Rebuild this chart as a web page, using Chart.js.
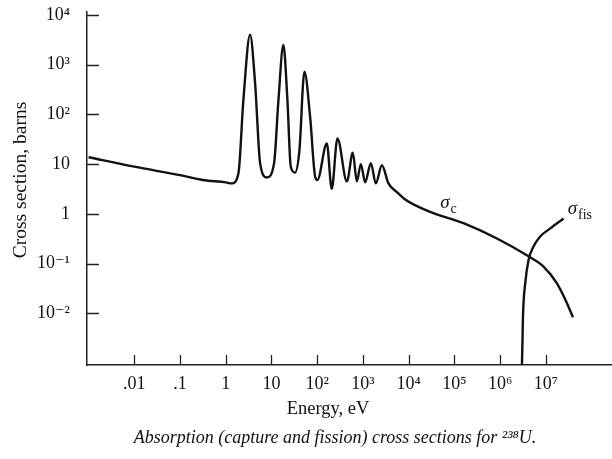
<!DOCTYPE html>
<html lang="en">
<head>
<meta charset="UTF-8">
<title>Absorption cross sections for 238U</title>
<script src="https://cdn.jsdelivr.net/npm/chart.js@4.4.0/dist/chart.umd.min.js"></script>
<style>
  html, body { margin: 0; padding: 0; background: #fff; }
</style>
</head>
<body>
<canvas id="graphique" width="612" height="459"></canvas>
<script>
// capture cross section, energy in eV / sigma in barns
const captureEnergy = [0.001, 0.01, 0.1, 0.316, 1, 1.35, 1.89, 2.43, 3.4, 4.38, 5.64, 7.9,
    11.4, 14.2, 18.2, 22.3, 26.4, 32.8, 40.8, 52.5, 70, 90, 101, 162, 208, 277, 445, 601,
    736, 900, 1117, 1489, 1914, 2594, 3614, 5521, 8395, 29500, 158000, 851000, 4.18e6,
    8.9e6, 1.75e7, 2.9e7, 3.92e7];
const captureSigma = [13.8, 8.9, 6.0, 4.8, 4.3, 4.1, 6.5, 195, 4000, 427, 10.5, 5.4,
    10.5, 195, 2500, 195, 8.9, 6.8, 19, 725, 89, 5.6, 4.8, 26, 3.2, 33, 4.5, 17,
    4.5, 10, 4.3, 10.5, 4.1, 9.5, 4.1, 2.75, 1.95, 1.1, 0.65, 0.32, 0.14,
    0.087, 0.04, 0.016, 0.0083];

// fission cross section
const fissionEnergy = [3.0e6, 3.09e6, 3.16e6, 3.54e6, 4.18e6, 5.38e6, 7.53e6, 1.25e7, 2.44e7];
const fissionSigma = [0.0009, 0.003, 0.0085, 0.04, 0.117, 0.22, 0.35, 0.51, 0.81];

const energyTicks = [0.01, 0.1, 1, 10, 1e2, 1e3, 1e4, 1e5, 1e6, 1e7];
const energyLabels = ['.01', '.1', '1', '10', '10²', '10³', '10⁴', '10⁵', '10⁶', '10⁷'];
const sigmaTicks = [1e-2, 1e-1, 1, 10, 1e2, 1e3, 1e4];
const sigmaLabels = ['10⁻²', '10⁻¹', '1', '10', '10²', '10³', '10⁴'];

// curve names, placed in data units
const curveSubs = ['c', 'fis'];
const curveNameEnergy = [4.9e4, 3.0e7];
const curveNameSigma = [1.3, 1.0];

const serif = "'Liberation Serif', 'DejaVu Serif', serif";

function pairs(xs, ys) {
    return xs.map((x, i) => ({ x: x, y: ys[i] }));
}

// ticks point into the plot like in the book
const inwardTicks = {
    id: 'inwardTicks',
    afterDraw(chart) {
        const { ctx, chartArea: a, scales: { x, y } } = chart;
        ctx.save();
        ctx.strokeStyle = '#222';
        ctx.lineWidth = 1.3;
        ctx.beginPath();
        energyTicks.forEach(v => {
            const px = Math.round(x.getPixelForValue(v)) + 0.5;
            ctx.moveTo(px, a.bottom);
            ctx.lineTo(px, a.bottom - 10);
        });
        sigmaTicks.forEach(v => {
            const py = Math.round(y.getPixelForValue(v)) + 0.5;
            ctx.moveTo(a.left, py);
            ctx.lineTo(a.left + 12, py);
        });
        ctx.stroke();

        // curve names
        ctx.fillStyle = '#111';
        ctx.textBaseline = 'alphabetic';
        ctx.textAlign = 'left';
        curveSubs.forEach((sub, i) => {
            const px = x.getPixelForValue(curveNameEnergy[i]);
            const py = y.getPixelForValue(curveNameSigma[i]);
            ctx.font = 'italic 19px ' + serif;
            ctx.fillText('σ', px, py);
            const w = ctx.measureText('σ').width;
            ctx.font = '14px ' + serif;
            ctx.fillText(sub, px + w + 1, py + 5);
        });

        // axis titles and caption
        ctx.textAlign = 'center';
        ctx.textBaseline = 'middle';
        ctx.font = '18.5px ' + serif;
        ctx.fillText('Energy, eV', a.left + 241, a.bottom + 44);
        ctx.font = 'italic 18px ' + serif;
        ctx.fillText('Absorption (capture and fission) cross sections for ²³⁸U.', a.left + 248, a.bottom + 73);
        ctx.save();
        ctx.translate(21, a.top + 168);
        ctx.rotate(-Math.PI / 2);
        ctx.font = '19.5px ' + serif;
        ctx.fillText('Cross section, barns', 0, 0);
        ctx.restore();
        ctx.restore();
    }
};

const lineStyle = {
    showLine: true,
    borderColor: '#111',
    borderWidth: 2.4,
    pointRadius: 0,
    fill: false,
    cubicInterpolationMode: 'monotone'
};

new Chart(document.getElementById('graphique'), {
    type: 'scatter',
    data: {
        datasets: [
            Object.assign({ label: 'capture', data: pairs(captureEnergy, captureSigma) }, lineStyle),
            Object.assign({ label: 'fission', data: pairs(fissionEnergy, fissionSigma) }, lineStyle)
        ]
    },
    options: {
        responsive: false,
        animation: false,
        layout: { padding: { top: 12, left: 0, right: 0, bottom: 0 } },
        plugins: {
            legend: { display: false },
            tooltip: { enabled: false }
        },
        scales: {
            x: {
                type: 'logarithmic',
                min: 0.000923,
                max: 2.8e8,
                afterBuildTicks: s => { s.ticks = energyTicks.map(v => ({ value: v })); },
                afterFit: s => {
                    s.height = 94;
                    s.paddingLeft = 0;
                    s.paddingRight = 0;
                },
                ticks: {
                    callback: (v, i) => energyLabels[i],
                    autoSkip: false,
                    maxRotation: 0,
                    padding: 8,
                    color: '#111',
                    font: { family: serif, size: 18 }
                },
                grid: { drawOnChartArea: false, drawTicks: false },
                border: { display: true, color: '#222', width: 1.5 }
            },
            y: {
                type: 'logarithmic',
                min: 0.000912,
                max: 11500,
                afterBuildTicks: s => { s.ticks = sigmaTicks.map(v => ({ value: v })); },
                afterFit: s => {
                    s.width = 87;
                    s.paddingTop = 0;
                    s.paddingBottom = 0;
                },
                ticks: {
                    callback: (v, i) => sigmaLabels[i],
                    autoSkip: false,
                    padding: 17,
                    color: '#111',
                    font: { family: serif, size: 18 }
                },
                grid: { drawOnChartArea: false, drawTicks: false },
                border: { display: true, color: '#222', width: 1.5 }
            }
        }
    },
    plugins: [inwardTicks]
});
</script>
</body>
</html>
